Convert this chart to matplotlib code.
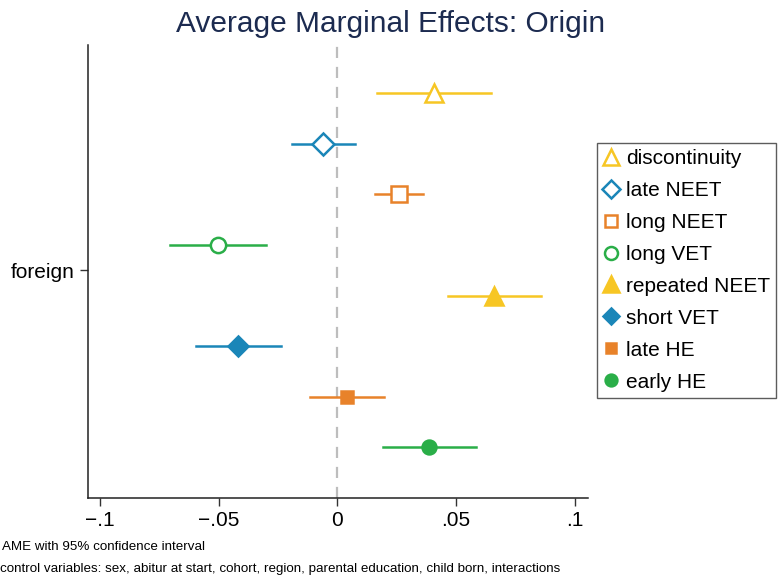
import numpy as np
import matplotlib.pyplot as plt

labels = ["discontinuity", "late NEET", "long NEET", "long VET",
          "repeated NEET", "short VET", "late HE", "early HE"]
ame = [0.0408, -0.0060, 0.0260, -0.0503, 0.0660, -0.0419, 0.0040, 0.0387]
ci_lo = [0.0167, -0.0191, 0.0159, -0.0705, 0.0467, -0.0596, -0.0116, 0.0193]
ci_hi = [0.0648, 0.0074, 0.0361, -0.0300, 0.0859, -0.0237, 0.0197, 0.0585]
xticks = [-0.1, -0.05, 0, 0.05, 0.1]
xticklabels = ["\u2212.1", "\u2212.05", "0", ".05", ".1"]

yellow = "#f7c624"
blue = "#1a86b8"
orange = "#e8822a"
green = "#2aae48"
colors = [yellow, blue, orange, green, yellow, blue, orange, green]
markers = ["^", "D", "s", "o", "^", "D", "s", "o"]
filled = [False] * 4 + [True] * 4
msizes = [13, 11, 11, 11, 13, 10, 9, 10]

plt.rcParams['font.family'] = ['Liberation Sans', 'DejaVu Sans']

fig = plt.figure(figsize=(7.82, 5.76), dpi=100)
ax = fig.add_axes([0.1125, 0.1354, 0.6395, 0.7866])

# offsets around the single "foreign" row
ypos = 3.5 - np.arange(len(labels))

ax.axvline(0, color="#bdbdbd", lw=1.6, ls=(0, (5, 4)), zorder=1)

for i in range(len(labels)):
    ax.plot([ci_lo[i], ci_hi[i]], [ypos[i], ypos[i]], color=colors[i], lw=1.8, zorder=2)
    ax.plot(ame[i], ypos[i], marker=markers[i], ms=msizes[i], ls="none",
            mfc=colors[i] if filled[i] else "white", mec=colors[i], mew=1.8,
            label=labels[i], zorder=3)

ax.set_xlim(-0.105, 0.1057)
ax.set_ylim(-4.5, 4.45)
ax.set_xticks(xticks)
ax.set_xticklabels(xticklabels, fontsize=15)
ax.set_yticks([0])
ax.set_yticklabels(["foreign"], fontsize=15)
ax.tick_params(axis="both", length=6, width=1, color="#333333")
for s in ["top", "right"]:
    ax.spines[s].set_visible(False)
for s in ["left", "bottom"]:
    ax.spines[s].set_linewidth(1.1)
    ax.spines[s].set_color("#222222")

fig.text(0.5, 0.983, "Average Marginal Effects: Origin", ha="center", va="top",
         fontsize=21.5, color="#1c2b50")

leg = fig.legend(loc="upper left", bbox_to_anchor=(0.763, 0.752), fontsize=15,
                 frameon=True, fancybox=False, edgecolor="#333333",
                 handlelength=0.8, handletextpad=0.3, labelspacing=0.62,
                 borderpad=0.3, borderaxespad=0, markerscale=0.85)
leg.get_frame().set_linewidth(1.0)

fig.text(0.002, 0.05, "AME with 95% confidence interval", fontsize=9.6, va="center")
fig.text(0.0, 0.013, "control variables: sex, abitur at start, cohort, region, parental education, child born, interactions",
         fontsize=9.6, va="center")

fig.savefig("out.png", dpi=100)
